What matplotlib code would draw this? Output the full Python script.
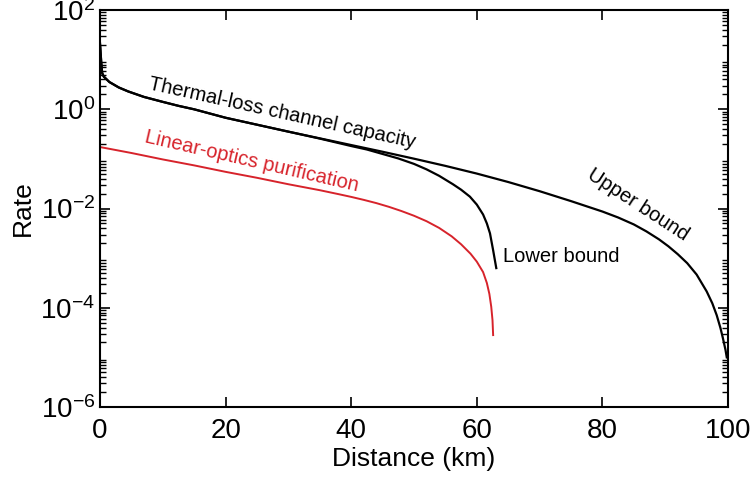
import numpy as np
import matplotlib
matplotlib.use('Agg')
import matplotlib.pyplot as plt
from matplotlib.ticker import LogLocator, NullFormatter, MultipleLocator

plt.rcParams['font.family'] = ['Liberation Sans', 'DejaVu Sans']
plt.rcParams['mathtext.default'] = 'regular'

# values (distance in km, log10 of rate)
upper_x = [0, 0.2, 0.35, 0.6, 1.5, 3, 4.5, 7, 10, 12.5, 15, 20, 25, 30, 35,
           40, 45, 50, 55, 60, 65, 70, 75, 80, 82.5, 85, 87, 89, 90.5, 92,
           93.5, 95, 96.6, 97.5, 98.2, 98.8, 99.2, 99.6, 99.8]
upper_log = [1.33, 0.95, 0.73, 0.66, 0.55, 0.44, 0.36, 0.25, 0.15, 0.07, 0.0,
             -0.17, -0.31, -0.45, -0.585, -0.72, -0.855, -0.995, -1.14,
             -1.295, -1.465, -1.65, -1.85, -2.06, -2.18, -2.32, -2.46, -2.62,
             -2.76, -2.92, -3.1, -3.33, -3.67, -3.91, -4.15, -4.41, -4.62,
             -4.85, -5.0]

lower_x = [0, 0.2, 0.35, 0.6, 1.5, 3, 4.5, 7, 10, 12.5, 15, 20, 25, 30, 35,
           40, 42.5, 45, 47.5, 50, 52, 54, 56.2, 57.5, 58.9, 60, 61, 61.6,
           62.1, 62.6, 63.1]
lower_log = [1.33, 0.95, 0.73, 0.66, 0.55, 0.44, 0.36, 0.25, 0.15, 0.07, 0.0,
             -0.17, -0.31, -0.45, -0.59, -0.74, -0.81, -0.9, -0.99, -1.1,
             -1.21, -1.34, -1.51, -1.62, -1.76, -1.92, -2.12, -2.3, -2.5,
             -2.84, -3.2]

lin_x = [0, 5, 10, 15, 20, 25, 30, 35, 38, 40, 42, 44, 46, 48, 50, 52, 54,
         56, 57.5, 59, 60, 61, 61.6, 62, 62.3, 62.5, 62.6]
lin_log = [-0.76, -0.88, -1.01, -1.13, -1.26, -1.38, -1.51, -1.63, -1.71,
           -1.765, -1.825, -1.89, -1.965, -2.05, -2.145, -2.255, -2.39, -2.56,
           -2.72, -2.91, -3.07, -3.28, -3.5, -3.72, -3.98, -4.25, -4.55]

upper = 10 ** np.array(upper_log)
lower = 10 ** np.array(lower_log)
lin = 10 ** np.array(lin_log)

red = '#d7232b'

fig = plt.figure(figsize=(7.5, 4.8), dpi=100)
ax = fig.add_axes([0.1333, 0.152, 0.8374, 0.827])

ax.plot(upper_x, upper, color='black', lw=1.6)
ax.plot(lower_x, lower, color='black', lw=1.6)
ax.plot(lin_x, lin, color=red, lw=1.4)

ax.set_yscale('log')
ax.set_xlim(0, 100)
ax.set_ylim(1e-6, 1e2)
ax.set_yticks([1e-6, 1e-4, 1e-2, 1e0, 1e2])
ax.yaxis.set_minor_locator(LogLocator(base=10, subs=np.arange(2, 10), numticks=20))
ax.yaxis.set_minor_formatter(NullFormatter())
ax.xaxis.set_major_locator(MultipleLocator(20))

ax.tick_params(which='both', direction='in', top=True, right=True, labelsize=20)
ax.tick_params(axis='x', pad=8)
ax.tick_params(which='major', length=7, width=1.2)
ax.tick_params(which='minor', length=4, width=1.0)
for s in ax.spines.values():
    s.set_linewidth(1.5)

ax.set_xlabel('Distance (km)', fontsize=19, labelpad=2)
ax.set_ylabel('Rate', fontsize=19, labelpad=4)

ax.text(29.0, 10 ** -0.08, 'Thermal-loss channel capacity', fontsize=14.5,
        rotation=-12.5, ha='center', va='center')
ax.text(24.2, 10 ** -1.04, 'Linear-optics purification', fontsize=14.5,
        color=red, rotation=-13, ha='center', va='center')
ax.text(85.7, 10 ** -1.93, 'Upper bound', fontsize=14.5,
        rotation=-33, ha='center', va='center')
ax.text(64.2, 10 ** -2.96, 'Lower bound', fontsize=14.5, ha='left', va='center')

fig.savefig('out.png', dpi=100)
